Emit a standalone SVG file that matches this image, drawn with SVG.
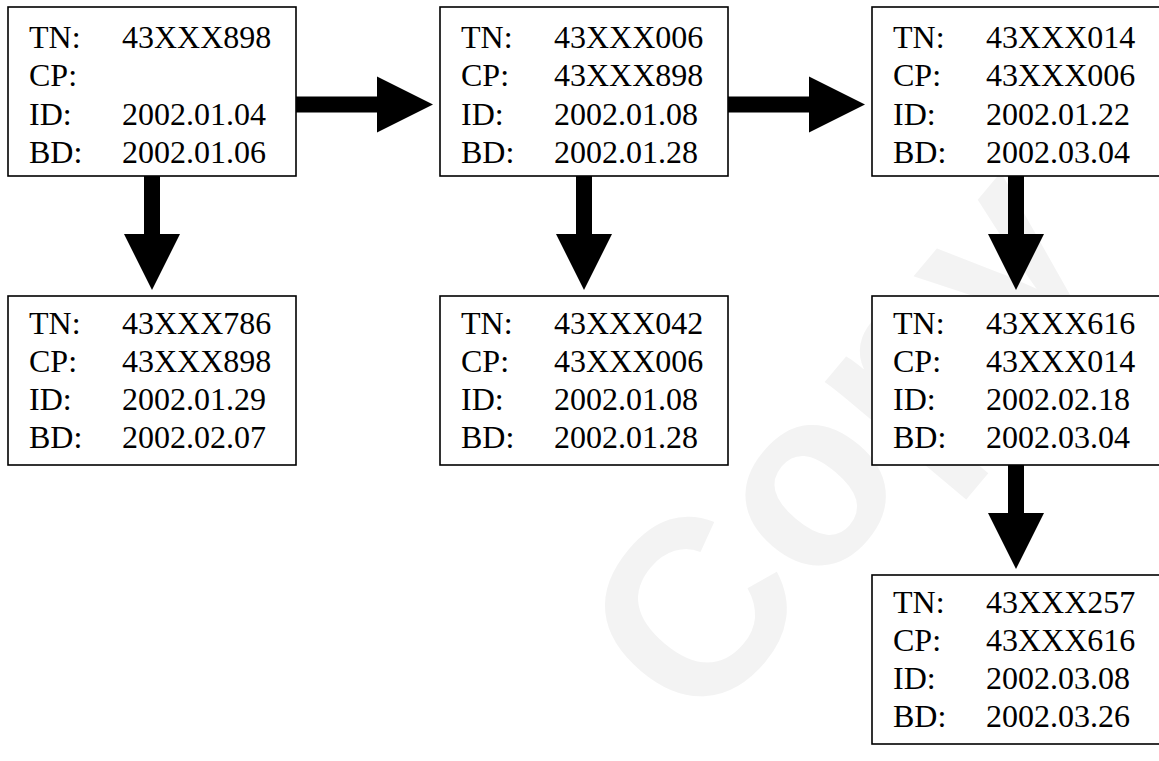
<svg xmlns="http://www.w3.org/2000/svg" width="1159" height="761" viewBox="0 0 1159 761">
  <style>
    .box { fill: #ffffff; stroke: #000000; stroke-width: 1.6; }
    .txt { font-family: "Liberation Serif", "Times New Roman", "DejaVu Serif", serif; font-size: 32px; fill: #000000; }
    .arrow { fill: #000000; stroke: none; }
    .mark { font-family: "Liberation Sans", Arial, sans-serif; font-weight: bold; font-size: 250px; fill: #f3f3f3; }
  </style>

  <rect x="0" y="0" width="1159" height="761" fill="#ffffff"/>

  <!-- background watermark -->
  <g id="watermark">
    <text class="mark" transform="translate(690,608) rotate(-50)" x="-90" y="90">Copy</text>
  </g>

  <!-- block arrows between records -->
  <g id="connectors">
    <polygon class="arrow" points="296,96.5 377,96.5 377,76.5 433,104.5 377,132.5 377,112.5 296,112.5"/>
    <polygon class="arrow" points="728,96.5 809,96.5 809,76.5 865,104.5 809,132.5 809,112.5 728,112.5"/>
    <polygon class="arrow" points="144,176 160,176 160,234 180,234 152,290 124,234 144,234"/>
    <polygon class="arrow" points="576,176 592,176 592,234 612,234 584,290 556,234 576,234"/>
    <polygon class="arrow" points="1008,176 1024,176 1024,234 1044,234 1016,290 988,234 1008,234"/>
    <polygon class="arrow" points="1008,465 1024,465 1024,513 1044,513 1016,569 988,513 1008,513"/>
  </g>

  <g id="n898" transform="translate(8,7)">
    <rect class="box" x="0" y="0" width="288" height="169"/>
    <text class="txt" x="21" y="41">TN:</text><text class="txt" x="114" y="41">43XXX898</text>
    <text class="txt" x="21" y="79.3">CP:</text>
    <text class="txt" x="21" y="117.6">ID:</text><text class="txt" x="114" y="117.6">2002.01.04</text>
    <text class="txt" x="21" y="155.9">BD:</text><text class="txt" x="114" y="155.9">2002.01.06</text>
  </g>

  <g id="n006" transform="translate(440,7)">
    <rect class="box" x="0" y="0" width="288" height="169"/>
    <text class="txt" x="21" y="41">TN:</text><text class="txt" x="114" y="41">43XXX006</text>
    <text class="txt" x="21" y="79.3">CP:</text><text class="txt" x="114" y="79.3">43XXX898</text>
    <text class="txt" x="21" y="117.6">ID:</text><text class="txt" x="114" y="117.6">2002.01.08</text>
    <text class="txt" x="21" y="155.9">BD:</text><text class="txt" x="114" y="155.9">2002.01.28</text>
  </g>

  <g id="n014" transform="translate(872,7)">
    <rect class="box" x="0" y="0" width="288" height="169"/>
    <text class="txt" x="21" y="41">TN:</text><text class="txt" x="114" y="41">43XXX014</text>
    <text class="txt" x="21" y="79.3">CP:</text><text class="txt" x="114" y="79.3">43XXX006</text>
    <text class="txt" x="21" y="117.6">ID:</text><text class="txt" x="114" y="117.6">2002.01.22</text>
    <text class="txt" x="21" y="155.9">BD:</text><text class="txt" x="114" y="155.9">2002.03.04</text>
  </g>

  <g id="n786" transform="translate(8,296)">
    <rect class="box" x="0" y="0" width="288" height="169"/>
    <text class="txt" x="21" y="37.5">TN:</text><text class="txt" x="114" y="37.5">43XXX786</text>
    <text class="txt" x="21" y="75.8">CP:</text><text class="txt" x="114" y="75.8">43XXX898</text>
    <text class="txt" x="21" y="114.1">ID:</text><text class="txt" x="114" y="114.1">2002.01.29</text>
    <text class="txt" x="21" y="152.4">BD:</text><text class="txt" x="114" y="152.4">2002.02.07</text>
  </g>

  <g id="n042" transform="translate(440,296)">
    <rect class="box" x="0" y="0" width="288" height="169"/>
    <text class="txt" x="21" y="37.5">TN:</text><text class="txt" x="114" y="37.5">43XXX042</text>
    <text class="txt" x="21" y="75.8">CP:</text><text class="txt" x="114" y="75.8">43XXX006</text>
    <text class="txt" x="21" y="114.1">ID:</text><text class="txt" x="114" y="114.1">2002.01.08</text>
    <text class="txt" x="21" y="152.4">BD:</text><text class="txt" x="114" y="152.4">2002.01.28</text>
  </g>

  <g id="n616" transform="translate(872,296)">
    <rect class="box" x="0" y="0" width="288" height="169"/>
    <text class="txt" x="21" y="37.5">TN:</text><text class="txt" x="114" y="37.5">43XXX616</text>
    <text class="txt" x="21" y="75.8">CP:</text><text class="txt" x="114" y="75.8">43XXX014</text>
    <text class="txt" x="21" y="114.1">ID:</text><text class="txt" x="114" y="114.1">2002.02.18</text>
    <text class="txt" x="21" y="152.4">BD:</text><text class="txt" x="114" y="152.4">2002.03.04</text>
  </g>

  <g id="n257" transform="translate(872,575)">
    <rect class="box" x="0" y="0" width="288" height="169"/>
    <text class="txt" x="21" y="37.5">TN:</text><text class="txt" x="114" y="37.5">43XXX257</text>
    <text class="txt" x="21" y="75.8">CP:</text><text class="txt" x="114" y="75.8">43XXX616</text>
    <text class="txt" x="21" y="114.1">ID:</text><text class="txt" x="114" y="114.1">2002.03.08</text>
    <text class="txt" x="21" y="152.4">BD:</text><text class="txt" x="114" y="152.4">2002.03.26</text>
  </g>
</svg>
